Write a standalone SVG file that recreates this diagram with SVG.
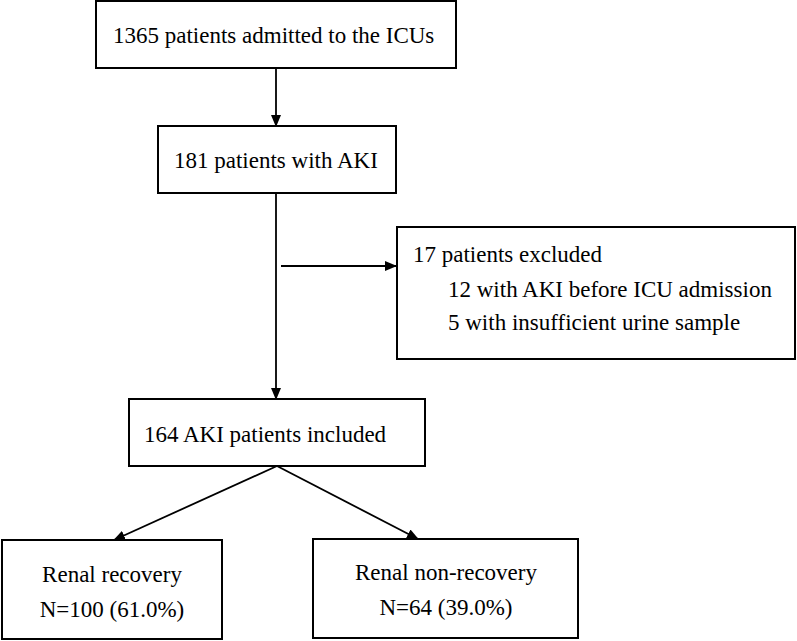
<svg xmlns="http://www.w3.org/2000/svg" width="797" height="641" viewBox="0 0 797 641">
<style>
.box{fill:#fff;stroke:#000;stroke-width:2}
.t{font-family:"Liberation Serif","Times New Roman",Times,serif;font-size:23px;fill:#000}
.c{text-anchor:middle}
.ln{stroke:#000;stroke-width:1.8;fill:none;marker-end:url(#ah)}
</style>
<defs>
<marker id="ah" markerWidth="12" markerHeight="10" refX="11" refY="5" orient="auto" markerUnits="userSpaceOnUse">
<path d="M0,0 L12,5 L0,10 Z" fill="#000"/>
</marker>
</defs>
<rect width="797" height="641" fill="#fff"/>
<g id="connectors">
<line class="ln" x1="276" y1="68" x2="276" y2="126"/>
<line class="ln" x1="276" y1="193" x2="276" y2="399"/>
<line class="ln" x1="281" y1="266" x2="396" y2="266"/>
<line class="ln" x1="277" y1="466" x2="114" y2="540"/>
<line class="ln" x1="277" y1="466" x2="418" y2="539"/>
</g>
<g id="n1">
<rect class="box" x="96" y="1" width="360" height="67"/>
<text class="t" x="113" y="43">1365 patients admitted to the ICUs</text>
</g>
<g id="n2">
<rect class="box" x="158" y="126" width="238" height="67"/>
<text class="t" x="174" y="168">181 patients with AKI</text>
</g>
<g id="n3">
<rect class="box" x="397" y="227" width="398" height="132"/>
<text class="t" x="413" y="262">17 patients excluded</text>
<text class="t" x="448" y="297">12 with AKI before ICU admission</text>
<text class="t" x="448" y="330">5 with insufficient urine sample</text>
</g>
<g id="n4">
<rect class="box" x="129" y="399" width="296" height="67"/>
<text class="t" x="144" y="442">164 AKI patients included</text>
</g>
<g id="n5">
<rect class="box" x="2" y="540" width="220" height="99"/>
<text class="t c" x="112" y="582">Renal recovery</text>
<text class="t c" x="112" y="617">N=100 (61.0%)</text>
</g>
<g id="n6">
<rect class="box" x="313" y="539" width="265" height="99"/>
<text class="t c" x="446" y="580">Renal non-recovery</text>
<text class="t c" x="446" y="615">N=64 (39.0%)</text>
</g>
</svg>
